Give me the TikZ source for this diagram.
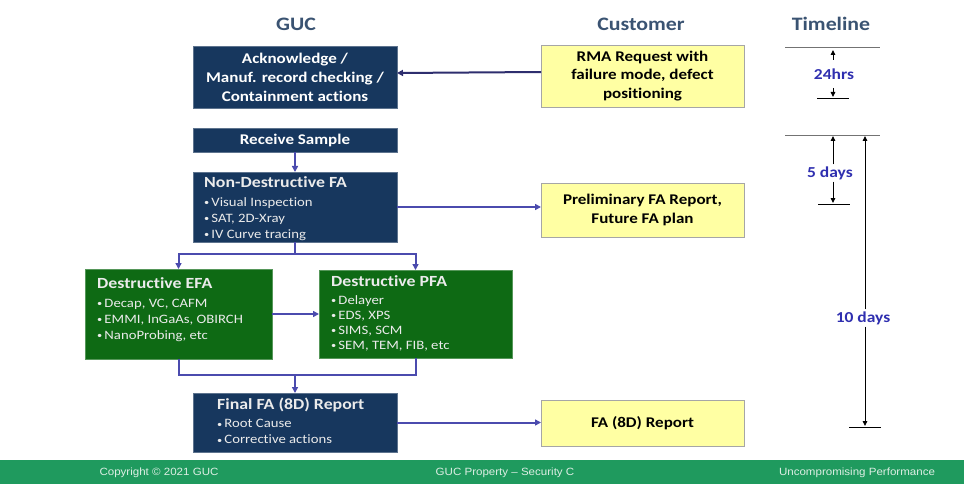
\documentclass[tikz,border=0pt]{standalone}
\usepackage{fontspec}
\setmainfont{Carlito}[FakeStretch=1.15, Ligatures=NoCommon]
\newfontfamily\footfont{Liberation Sans}[FakeStretch=1.1]
\usetikzlibrary{arrows.meta,calc}
\definecolor{navy}{HTML}{17375E}
\definecolor{dgreen}{HTML}{0E6A14}
\definecolor{yel}{HTML}{FFFFA3}
\definecolor{ybord}{HTML}{A6A6A6}
\definecolor{flowc}{HTML}{4B4BAE}
\definecolor{rmac}{HTML}{2E2E6E}
\definecolor{headc}{HTML}{3A5372}
\definecolor{tlc}{HTML}{2F2FB0}
\definecolor{footc}{HTML}{1F9A5E}
\definecolor{foott}{HTML}{DDEEE4}
\newcommand\mytitlefont{\fontsize{15.5}{17}\selectfont\bfseries}
\newcommand\bul{{\fontsize{9}{9}\selectfont\raisebox{0.5pt}{•}}\,}
\tikzset{
  boxbase/.style={anchor=north west, inner sep=0pt, outer sep=0pt},
  navybox/.style={boxbase, fill=navy, draw=navy!70!white, line width=0.6pt, text=white, align=center,
    font=\fontsize{14.8}{19}\selectfont\bfseries},
  greenbox/.style={boxbase, fill=dgreen, draw=dgreen!70!white, line width=0.6pt},
  yelbox/.style={boxbase, fill=yel, draw=ybord, line width=0.8pt, align=center, text=black,
    font=\fontsize{14.8}{18.5}\selectfont\bfseries},
  listtxt/.style={anchor=north west, inner sep=0pt, text=white!92!black, align=left,
    font=\fontsize{12.8}{16}\selectfont},
  head/.style={text=headc, font=\fontsize{19}{22}\selectfont\bfseries},
  flow/.style={draw=flowc, line width=2pt},
  flowa/.style={flow, -{Triangle[length=6pt,width=6pt]}},
  tline/.style={draw=black!55, line width=0.8pt},
  tarrow/.style={draw=black, line width=0.9pt, -{Triangle[length=5pt,width=4.5pt]}},
  tlab/.style={text=tlc, font=\fontsize{15.2}{17}\selectfont\bfseries, fill=white, inner sep=2pt},
  foottxt/.style={text=foott, font=\footfont\fontsize{10.5}{12}\selectfont}
}
\begin{document}
\begin{tikzpicture}[x=1pt,y=-1pt]
\useasboundingbox (0,0) rectangle (964,484);
\fill[white] (0,0) rectangle (964,484);

% headers
\node[head] (hguc) at (296,24) {GUC};
\node[head] (hcust) at (641,24) {Customer};
\node[head] (htime) at (831,24) {Timeline};

% GUC column
\node[navybox, minimum width=204pt, minimum height=62pt] (ack) at (193,46)
  {Acknowledge /\\Manuf. record checking /\\Containment actions};
\node[navybox, minimum width=204pt, minimum height=24pt] (recv) at (193,128) {Receive Sample};
\node[navybox, minimum width=204pt, minimum height=70pt] (ndfa) at (193,172) {};
\node[listtxt] (ndfat) at (204,176)
  {{\mytitlefont Non-Destructive FA}\\[3pt] \bul Visual Inspection\\ \bul SAT, 2D-Xray\\ \bul IV Curve tracing};

\node[greenbox, minimum width=187pt, minimum height=90pt] (efa) at (85,269) {};
\node[listtxt] (efat) at (97,277)
  {{\mytitlefont Destructive EFA}\\[3pt] \bul Decap, VC, CAFM\\ \bul EMMI, InGaAs, OBIRCH\\ \bul NanoProbing, etc};
\node[greenbox, minimum width=193pt, minimum height=88pt] (pfa) at (319,270) {};
\node[listtxt, font=\fontsize{12.8}{15}\selectfont] (pfat) at (331,275)
  {{\mytitlefont Destructive PFA}\\[3pt] \bul Delayer\\ \bul EDS, XPS\\ \bul SIMS, SCM\\ \bul SEM, TEM, FIB, etc};

\node[navybox, minimum width=204pt, minimum height=59pt] (final) at (193,393) {};
\node[listtxt] (finalt) at (217,398)
  {{\mytitlefont Final FA (8D) Report}\\[2pt] \bul Root Cause\\ \bul Corrective actions};

% customer column
\node[yelbox, minimum width=203pt, minimum height=62pt] (rma) at (541,45)
  {RMA Request with\\failure mode, defect\\positioning};
\node[yelbox, minimum width=203pt, minimum height=54pt] (prelim) at (541,183)
  {Preliminary FA Report,\\Future FA plan};
\node[yelbox, minimum width=203pt, minimum height=46pt] (fa8d) at (541,400) {FA (8D) Report};

% connectors
\draw[rmac, line width=2pt, -{Triangle[length=6pt,width=6pt]}] ([yshift=4pt]rma.west) -- ([yshift=4pt]ack.east);
\draw[flowa] (recv.south) -- (ndfa.north);
\draw[flowa] (ndfa.east) -- (ndfa.east -| prelim.west);
\coordinate (split) at (295,254);
\draw[flow] (ndfa.south) -- (split);
\draw[flowa] (split) -| (efa.north);
\draw[flowa] (split) -| (pfa.north);
\draw[flowa] (efa.east |- 0,314) -- (pfa.west |- 0,314);
\coordinate (merge) at (295,375);
\draw[flow] (efa.south) |- (merge);
\draw[flow] (pfa.south) |- (merge);
\draw[flowa] (merge) -- (final.north);
\draw[flowa] (final.east) -- (final.east -| fa8d.west);

% timeline
\coordinate (l1a) at (785,47); \coordinate (l1b) at (880,47);
\coordinate (l2a) at (785,135); \coordinate (l2b) at (880,135);
\draw[tline] (l1a) -- (l1b);
\draw[tline] (l2a) -- (l2b);
\node[tlab] (t24) at (834,74) {24hrs};
\coordinate (t24top) at (833,50);
\coordinate (t24bot) at (833,97);
\draw[tarrow] (833,60) -- (t24top);
\draw[tarrow] (833,88) -- (t24bot);
\draw[black, line width=0.9pt] (817,98) -- (849,98);
\node[tlab] (t5) at (830,173) {5 days};
\draw[tarrow] (t5.north -| 833,0) -- (833,136);
\draw[tarrow] (t5.south -| 833,0) -- (833,203);
\draw[black, line width=0.9pt] (818,204) -- (850,204);
\node[tlab] (t10) at (863,318) {10 days};
\draw[tarrow] (t10.north -| 865,0) -- (865,136);
\draw[tarrow] (t10.south -| 865,0) -- (865,426);
\draw[black, line width=0.9pt] (849,427) -- (881,427);

% footer
\fill[footc] (0,460) rectangle (964,484);
\node[foottxt] (f1) at (159,473) {Copyright © 2021 GUC};
\node[foottxt] (f2) at (505,473) {GUC Property – Security C};
\node[foottxt] (f3) at (857,473) {Uncompromising Performance};
\end{tikzpicture}
\end{document}
